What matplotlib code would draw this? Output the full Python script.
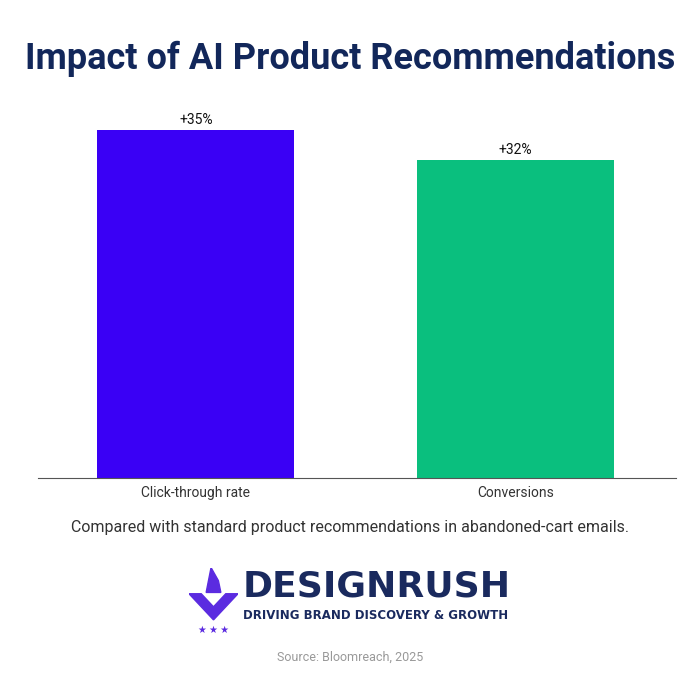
import matplotlib
matplotlib.use("Agg")
import matplotlib.pyplot as plt
from matplotlib.patches import Polygon

categories = ["Click-through rate", "Conversions"]
values = [35, 32]
labels = ["+35%", "+32%"]
colors = ["#3a00f5", "#0abf7e"]

plt.rcParams["font.family"] = ["Roboto", "DejaVu Sans"]

fig = plt.figure(figsize=(7, 6.88), dpi=100)
ax = fig.add_axes([0.0543, 0.3052, 0.911, 0.549])
ax.bar(range(len(values)), values, width=0.616, color=colors)
for i, (v, lab) in enumerate(zip(values, labels)):
    ax.text(i, v + 0.3, lab, ha="center", va="bottom", fontsize=10, color="#111111")
ax.set_xlim(-0.494, 1.5)
ax.set_ylim(0, 38)
ax.set_xticks(range(len(categories)))
ax.set_xticklabels(categories, fontsize=10, color="#333333")
ax.tick_params(axis="x", length=0, pad=6)
ax.set_yticks([])
for s in ["top", "right", "left"]:
    ax.spines[s].set_visible(False)
ax.spines["bottom"].set_color("#555555")

fig.text(0.5, 0.915, "Impact of AI Product Recommendations", ha="center", va="center",
         fontsize=26, fontweight="bold", color="#12275a")
fig.text(0.5, 0.233, "Compared with standard product recommendations in abandoned-cart emails.",
         ha="center", va="center", fontsize=11.5, color="#333333")

# logo
lx = fig.add_axes([0.27, 0.08, 0.07, 0.095])
lx.set_xlim(0, 1)
lx.set_ylim(0, 1)
lx.axis("off")
lx.add_patch(Polygon([[0.0, 0.6], [0.5, 0.2], [1.0, 0.6], [0.75, 0.6], [0.5, 0.4], [0.25, 0.6]],
                     color="#5b2be0"))
lx.add_patch(Polygon([[0.35, 0.62], [0.45, 1.0], [0.6, 0.8], [0.65, 0.62]], color="#5b2be0"))
lx.text(0.5, 0.05, "\u2605 \u2605 \u2605", ha="center", va="center", fontsize=7, color="#5b2be0")
fig.text(0.346, 0.148, "DESIGNRUSH", ha="left", va="center", fontsize=26,
         fontweight="bold", color="#1a2a5e", family="DejaVu Sans")
fig.text(0.347, 0.105, "DRIVING BRAND DISCOVERY & GROWTH", ha="left", va="center",
         fontsize=8.5, fontweight="bold", color="#1a2a5e", family="DejaVu Sans")

fig.text(0.5, 0.045, "Source: Bloomreach, 2025", ha="center", va="center",
         fontsize=9, color="#999999")

fig.savefig("out.png", dpi=100)
